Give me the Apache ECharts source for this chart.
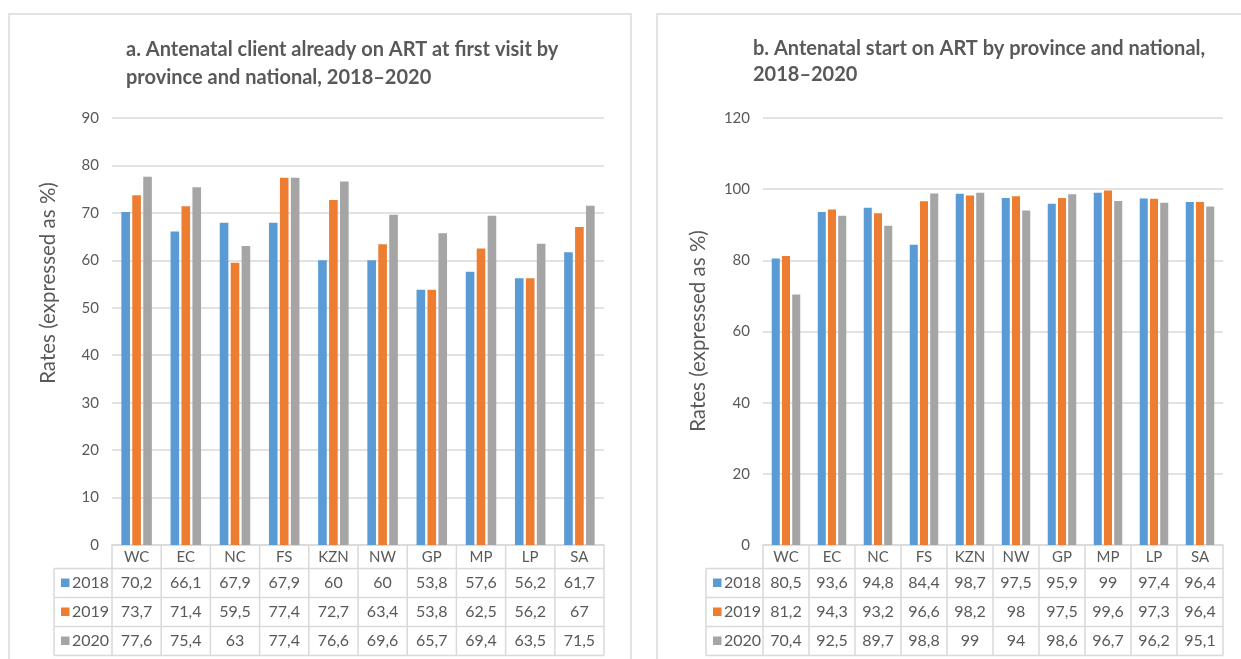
<!DOCTYPE html>
<html>
<head>
<meta charset="utf-8">
<script src="https://cdn.jsdelivr.net/npm/echarts@6/dist/echarts.min.js"></script>
<style>
  html, body { margin: 0; padding: 0; background: #ffffff; }
  #chart { width: 1241px; height: 659px; }
</style>
</head>
<body>
<div id="chart"></div>
<script>
// Provinces and national total
const categories = ['WC', 'EC', 'NC', 'FS', 'KZN', 'NW', 'GP', 'MP', 'LP', 'SA'];
const years = ['2018', '2019', '2020'];

// a. Antenatal client already on ART at first visit (%)
const onArt2018 = [70.2, 66.1, 67.9, 67.9, 60, 60, 53.8, 57.6, 56.2, 61.7];
const onArt2019 = [73.7, 71.4, 59.5, 77.4, 72.7, 63.4, 53.8, 62.5, 56.2, 67];
const onArt2020 = [77.6, 75.4, 63, 77.4, 76.6, 69.6, 65.7, 69.4, 63.5, 71.5];

// b. Antenatal start on ART (%)
const start2018 = [80.5, 93.6, 94.8, 84.4, 98.7, 97.5, 95.9, 99, 97.4, 96.4];
const start2019 = [81.2, 94.3, 93.2, 96.6, 98.2, 98, 97.5, 99.6, 97.3, 96.4];
const start2020 = [70.4, 92.5, 89.7, 98.8, 99, 94, 98.6, 96.7, 96.2, 95.1];

const titleA = 'a. Antenatal client already on ART at first visit by\nprovince and national, 2018\u20132020';
const titleB = 'b. Antenatal start on ART by province and national,\n2018\u20132020';
const axisTitle = 'Rates (expressed as %)';

const colors = ['#5B9BD5', '#ED7D31', '#A5A5A5'];
const TEXT = '#595959';
const LINE = '#d9d9d9';
const FONT = 'Lato, "Open Sans", sans-serif';

const chart = echarts.init(document.getElementById('chart'), null, { renderer: 'canvas' });

function xAxis(gridIndex) {
  return {
    type: 'category', gridIndex, data: categories,
    axisLine: { show: true, lineStyle: { color: LINE, width: 1.5 } },
    axisTick: { show: false },
    axisLabel: { color: TEXT, fontSize: 15, fontFamily: FONT, margin: 12, verticalAlign: 'middle', interval: 0 }
  };
}
function yAxis(gridIndex, max, interval) {
  return {
    type: 'value', gridIndex, min: 0, max, interval,
    axisLine: { show: false }, axisTick: { show: false },
    axisLabel: { color: TEXT, fontSize: 15, fontFamily: FONT, margin: 13 },
    splitLine: { lineStyle: { color: LINE, width: 1.5 } }
  };
}
function barSeries(name, data, idx, axisIdx) {
  return {
    type: 'bar', name, data, xAxisIndex: axisIdx, yAxisIndex: axisIdx,
    itemStyle: { color: colors[idx] },
    barGap: '27%', barCategoryGap: '38%',
    animation: false
  };
}

const tables = [
  { axis: 0, rows: [onArt2018, onArt2019, onArt2020], legendLeft: 54 },
  { axis: 1, rows: [start2018, start2019, start2020], legendLeft: 706 }
];

chart.setOption({
  animation: false,
  textStyle: { fontFamily: FONT },
  title: [
    { text: titleA, left: 121, top: 31, textStyle: { color: TEXT, fontSize: 20, fontWeight: 'bold', fontFamily: FONT, lineHeight: 28 } },
    { text: titleB, left: 748, top: 31, textStyle: { color: TEXT, fontSize: 20, fontWeight: 'bold', fontFamily: FONT, lineHeight: 26 } }
  ],
  grid: [
    { left: 112, top: 118, width: 492, height: 427 },
    { left: 763, top: 118, width: 460, height: 427 }
  ],
  xAxis: [xAxis(0), xAxis(1)],
  yAxis: [yAxis(0, 90, 10), yAxis(1, 120, 20)],
  series: [
    barSeries(years[0], onArt2018, 0, 0),
    barSeries(years[1], onArt2019, 1, 0),
    barSeries(years[2], onArt2020, 2, 0),
    barSeries(years[0], start2018, 0, 1),
    barSeries(years[1], start2019, 1, 1),
    barSeries(years[2], start2020, 2, 1)
  ]
});

// Panel frames, axis titles and the data tables under each chart
const graphics = [
  { type: 'rect', shape: { x: 9, y: 14, width: 622, height: 700 }, style: { fill: 'none', stroke: LINE, lineWidth: 1.5 }, z: -1 },
  { type: 'rect', shape: { x: 657, y: 14, width: 700, height: 700 }, style: { fill: 'none', stroke: LINE, lineWidth: 1.5 }, z: -1 },
  { type: 'text', x: 48, y: 283, rotation: Math.PI / 2,
    style: { text: axisTitle, fill: TEXT, font: '20.5px ' + FONT, align: 'center', verticalAlign: 'middle' } },
  { type: 'text', x: 698, y: 331, rotation: Math.PI / 2,
    style: { text: axisTitle, fill: TEXT, font: '20.5px ' + FONT, align: 'center', verticalAlign: 'middle' } }
];

const fmt = v => String(v).replace('.', ',');
const HEADER_H = 23.5, ROW_H = 29;

tables.forEach(t => {
  const centers = categories.map((c, i) => chart.convertToPixel({ xAxisIndex: t.axis }, i));
  const step = centers[1] - centers[0];
  const catLeft = centers[0] - step / 2;
  const catRight = centers[centers.length - 1] + step / 2;
  const base = chart.convertToPixel({ yAxisIndex: t.axis }, 0);
  const rowTop = base + HEADER_H;
  const bottom = rowTop + ROW_H * t.rows.length;
  const line = (x1, y1, x2, y2) => graphics.push({
    type: 'line', shape: { x1, y1, x2, y2 }, style: { stroke: LINE, lineWidth: 1.5 }, silent: true
  });
  // vertical cell borders
  for (let i = 0; i <= categories.length; i++) {
    const x = catLeft + i * step;
    line(x, base, x, bottom);
  }
  line(t.legendLeft, rowTop, t.legendLeft, bottom);
  // horizontal row borders
  for (let r = 0; r <= t.rows.length; r++) {
    const y = rowTop + r * ROW_H;
    line(t.legendLeft, y, catRight, y);
  }
  // legend keys and values
  t.rows.forEach((row, r) => {
    const cy = rowTop + r * ROW_H + ROW_H / 2;
    graphics.push({ type: 'rect', shape: { x: t.legendLeft + 7, y: cy - 4.5, width: 8.5, height: 8.5 }, style: { fill: colors[r] } });
    graphics.push({ type: 'text', x: t.legendLeft + 18, y: cy,
      style: { text: years[r], fill: TEXT, font: '16px ' + FONT, align: 'left', verticalAlign: 'middle' } });
    row.forEach((v, i) => {
      graphics.push({ type: 'text', x: centers[i], y: cy,
        style: { text: fmt(v), fill: TEXT, font: '16px ' + FONT, align: 'center', verticalAlign: 'middle' } });
    });
  });
});

chart.setOption({ graphic: graphics });
</script>
</body>
</html>
